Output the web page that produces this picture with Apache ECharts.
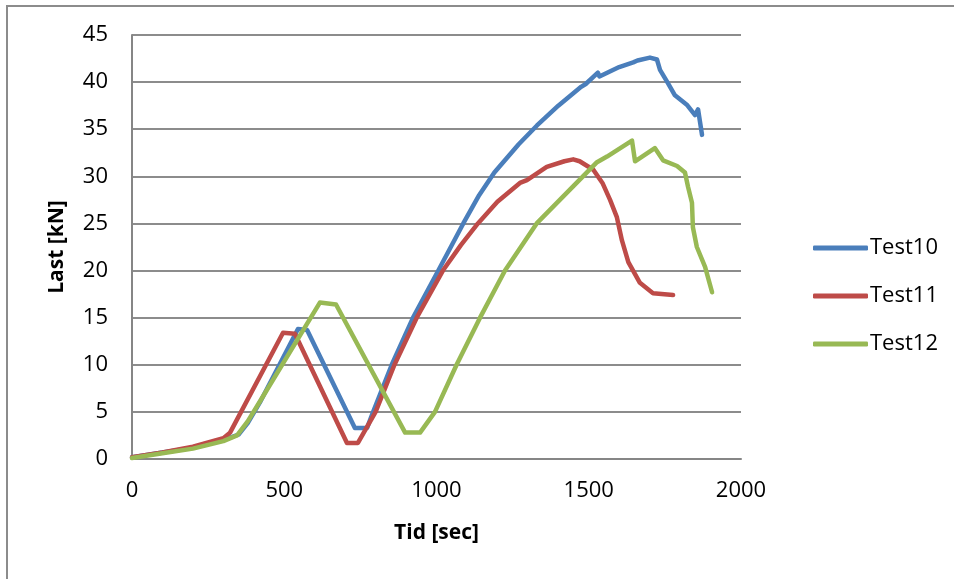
<!DOCTYPE html>
<html>
<head>
<meta charset="utf-8">
<style>
html,body{margin:0;padding:0;background:#fff;}
#c{width:954px;height:579px;}
</style>
<script src="https://cdn.jsdelivr.net/npm/echarts@6/dist/echarts.min.js"></script>
</head>
<body>
<div id="c"></div>
<script>
const seriesNames = ['Test10', 'Test11', 'Test12'];
const xTicks = [0, 500, 1000, 1500, 2000];
const yTicks = [0, 5, 10, 15, 20, 25, 30, 35, 40, 45];

const test10 = [[0,0.2],[100,0.7],[200,1.2],[300,2.0],[350,2.6],[380,3.8],[420,6.0],[545,13.8],[575,13.7],[732,3.3],[772,3.3],[792,5],[853,10],[923,15],[1006,20],[1088,25],[1140,28],[1190,30.4],[1270,33.4],[1330,35.4],[1400,37.5],[1475,39.5],[1480,39.3],[1490,39.8],[1530,41.0],[1535,40.6],[1600,41.6],[1646,42.1],[1652,42.0],[1660,42.3],[1701,42.6],[1724,42.4],[1734,41.3],[1760,39.9],[1783,38.6],[1822,37.6],[1849,36.5],[1859,37.1],[1872,34.4]];
const test11 = [[0,0.2],[100,0.7],[200,1.3],[300,2.2],[322,2.8],[496,13.4],[535,13.3],[706,1.7],[742,1.7],[800,5],[862,10],[935,15],[1021,20],[1080,22.7],[1136,25],[1200,27.3],[1274,29.3],[1297,29.6],[1362,31.0],[1420,31.6],[1449,31.8],[1470,31.6],[1515,30.7],[1545,29.3],[1570,27.5],[1592,25.7],[1609,23.2],[1630,20.9],[1668,18.7],[1711,17.6],[1777,17.4]];
const test12 = [[0,0.1],[100,0.6],[200,1.1],[300,1.9],[345,2.5],[380,4.0],[420,6.1],[617,16.6],[670,16.4],[897,2.8],[946,2.8],[995,5],[1066,10],[1143,15],[1225,20],[1329,25],[1405,27.5],[1481,30],[1527,31.5],[1560,32.1],[1642,33.8],[1652,31.6],[1717,33.0],[1744,31.7],[1790,31.1],[1816,30.4],[1826,28.9],[1839,27.2],[1842,24.6],[1855,22.5],[1882,20.4],[1905,17.7]];

const colors = ['#4a7ebb', '#be4b48', '#98b954'];
const font = "'Open Sans', 'Noto Sans', sans-serif";

const chart = echarts.init(document.getElementById('c'));
chart.setOption({
  animation: false,
  color: colors,
  graphic: [{
    type: 'rect',
    shape: {x: 7, y: 6, width: 1100, height: 1000},
    style: {fill: 'none', stroke: '#8c8c8c', lineWidth: 2}
  }],
  grid: {left: 132, right: 213, top: 35, bottom: 120},
  legend: {
    orient: 'vertical',
    left: 808,
    top: 231,
    itemWidth: 55,
    itemHeight: 5,
    itemGap: 24,
    icon: 'roundRect',
    data: seriesNames,
    textStyle: {fontFamily: font, fontSize: 22, color: '#000', lineHeight: 24, padding: [0,0,0,-3]}
  },
  xAxis: {
    type: 'value',
    min: xTicks[0], max: xTicks[xTicks.length-1], interval: 500,
    name: 'Tid [sec]', nameLocation: 'middle', nameGap: 64,
    nameTextStyle: {fontFamily: font, fontSize: 21, fontWeight: 'bold', color: '#000'},
    axisLine: {show: true, lineStyle: {color: '#868686', width: 2}},
    axisTick: {show: false},
    splitLine: {show: false},
    axisLabel: {fontFamily: font, fontSize: 22, color: '#000', margin: 21, formatter: v => String(v)}
  },
  yAxis: {
    type: 'value',
    min: yTicks[0], max: yTicks[yTicks.length-1], interval: 5,
    name: 'Last [kN]', nameLocation: 'middle', nameGap: 64,
    nameTextStyle: {fontFamily: font, fontSize: 21, fontWeight: 'bold', color: '#000'},
    axisLine: {show: true, lineStyle: {color: '#868686', width: 2}},
    axisTick: {show: false},
    splitLine: {show: true, lineStyle: {color: '#8c8c8c', width: 2}},
    axisLabel: {fontFamily: font, fontSize: 22, color: '#000', margin: 24, formatter: v => String(v)}
  },
  series: [
    {name: seriesNames[0], type: 'line', data: test10, showSymbol: false, lineStyle: {width: 4.5, cap: 'round', join: 'round'}},
    {name: seriesNames[1], type: 'line', data: test11, showSymbol: false, lineStyle: {width: 4.5, cap: 'round', join: 'round'}},
    {name: seriesNames[2], type: 'line', data: test12, showSymbol: false, lineStyle: {width: 4.5, cap: 'round', join: 'round'}}
  ]
});
</script>
</body>
</html>
